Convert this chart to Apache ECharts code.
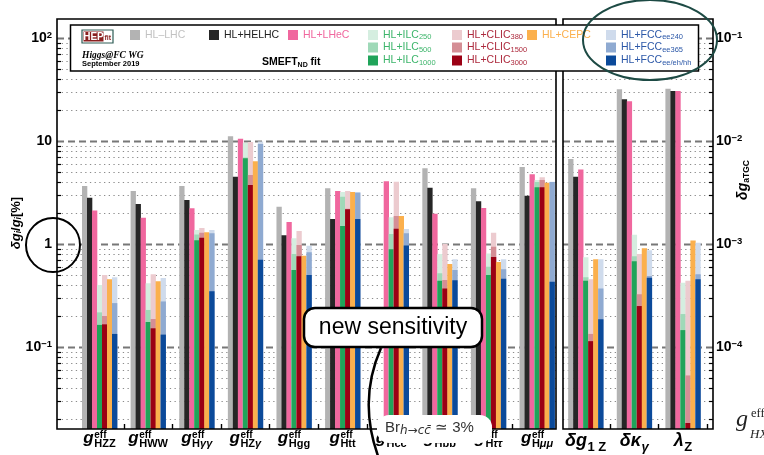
<!DOCTYPE html>
<html><head><meta charset="utf-8">
<script src="https://cdn.jsdelivr.net/npm/echarts@6/dist/echarts.min.js"></script>
<style>html,body{margin:0;padding:0;background:#fff}#c{width:764px;height:455px}</style>
</head><body><div id="c"></div>
<script>
// ---------------- DATA ----------------
const categories = ['gHZZ','gHWW','gHγγ','gHZγ','gHgg','gHtt','gHcc','gHbb','gHττ','gHμμ','δg1Z','δκγ','λZ'];
const labelMain = ['g','g','g','g','g','g','g','g','g','g','δg','δκ','λ'];
const labelSup  = ['eff','eff','eff','eff','eff','eff','eff','eff','eff','eff','','',''];
const labelSub  = ['HZZ','HWW','Hγγ','HZγ','Hgg','Htt','Hcc','Hbb','Hττ','Hμμ','1 Z','γ','Z'];

// Higgs couplings δg/g [%] (first 10 categories)
const hlLhc    = [3.66, 3.27, 3.66, 11.1, 2.30, 3.47, null, 5.43, 3.47, 5.6];
const hlHelhc  = [2.81, 2.44, 2.67, 4.50, 1.22, 1.75, null, 3.52, 2.60, 2.94];
const hlLhec   = [2.12, 1.80, 2.22, 10.5, 1.64, 3.27, 4.06, 1.97, 2.24, 4.75];
const ilc250   = [0.40, 0.415, 1.37, 9.6, 1.14, 3.20, 1.82, 0.80, 0.81, 4.18];
const ilc500   = [0.217, 0.229, 1.24, 6.9, 0.80, 2.88, 1.25, 0.52, 0.60, 4.0];
const ilc1000  = [0.164, 0.175, 1.09, 6.8, 0.56, 1.50, 0.89, 0.44, 0.50, 3.55];
const clic380  = [0.50, 0.508, 1.43, 9.8, 1.34, 3.27, 4.03, 1.0, 1.29, 4.44];
const clic1500 = [0.20, 0.187, 1.29, 4.68, 0.98, 2.2, 1.87, 0.447, 0.94, 4.18];
const clic3000 = [0.166, 0.152, 1.15, 3.74, 0.76, 2.17, 1.41, 0.371, 0.75, 3.55];
const cepc     = [0.454, 0.435, 1.30, 6.35, 0.77, 3.20, 1.87, 0.64, 0.67, 3.94];
const fcc240   = [0.475, 0.468, 1.37, 9.9, 0.96, 3.20, 1.40, 0.71, 0.71, 4.03];
const fcc365   = [0.267, 0.277, 1.27, 9.35, 0.83, 3.15, 1.27, 0.56, 0.57, 4.0];
const fccAll   = [0.134, 0.132, 0.347, 0.705, 0.50, 1.75, 0.97, 0.444, 0.46, 0.43];

// anomalous TGC δg_aTGC (last 3 categories: δg1Z, δκγ, λZ)
const hlLhcTgc    = [6.7e-3, 31.8e-3, 32.2e-3];
const hlHelhcTgc  = [4.5e-3, 25.4e-3, 30.6e-3];
const hlLhecTgc   = [5.3e-3, 24.3e-3, 30.6e-3];
const ilc250Tgc   = [0.743e-3, 1.23e-3, 0.42e-3];
const ilc500Tgc   = [0.475e-3, 0.76e-3, 0.209e-3];
const ilc1000Tgc  = [0.44e-3, 0.68e-3, 0.146e-3];
const clic380Tgc  = [0.454e-3, 0.80e-3, 0.44e-3];
const clic1500Tgc = [0.134e-3, 0.325e-3, 0.053e-3];
const clic3000Tgc = [0.114e-3, 0.25e-3, 0.0183e-3];
const cepcTgc     = [0.71e-3, 0.91e-3, 1.08e-3];
const fcc240Tgc   = [0.71e-3, 0.87e-3, 1.03e-3];
const fcc365Tgc   = [0.371e-3, 0.49e-3, 0.51e-3];
const fccAllTgc   = [0.186e-3, 0.47e-3, 0.454e-3];

// tick labels
const leftTickValues  = [0.1, 1, 10, 100];
const leftTickLabels  = [['10','−1'], ['1',''], ['10',''], ['10','2']];
const rightTickValues = [1e-4, 1e-3, 1e-2, 1e-1];
const rightTickLabels = [['10','−4'], ['10','−3'], ['10','−2'], ['10','−1']];

// ---------------- CONFIG ----------------
const F = '"Liberation Sans", Arial, sans-serif';
const L_MIN = 0.016, L_MAX = 153, R_MIN = 1.6e-5, R_MAX = 0.153;
const TOP = 19, H = 410;

const defs = [
  {name:'HL–LHC', slot:0, color:'#b3b3b3', text:'#c2c2c2', main:hlLhc, tgc:hlLhcTgc, lx:130, ly:30},
  {name:'HL+HELHC', slot:1, color:'#262626', text:'#222222', main:hlHelhc, tgc:hlHelhcTgc, lx:209, ly:30},
  {name:'HL+LHeC', slot:2, color:'#f0679e', text:'#f0679e', main:hlLhec, tgc:hlLhecTgc, lx:288, ly:30},
  {name:'HL+ILC250', slot:3, color:'#d5eee0', text:'#3db56b', main:ilc250, tgc:ilc250Tgc, lx:368, ly:30},
  {name:'HL+ILC500', slot:3, color:'#9fd9b8', text:'#3db56b', main:ilc500, tgc:ilc500Tgc, lx:368, ly:42.5},
  {name:'HL+ILC1000', slot:3, color:'#20a45a', text:'#3db56b', main:ilc1000, tgc:ilc1000Tgc, lx:368, ly:55.5},
  {name:'HL+CLIC380', slot:4, color:'#eccbcf', text:'#ad2a3d', main:clic380, tgc:clic380Tgc, lx:452, ly:30},
  {name:'HL+CLIC1500', slot:4, color:'#d48e95', text:'#ad2a3d', main:clic1500, tgc:clic1500Tgc, lx:452, ly:42.5},
  {name:'HL+CLIC3000', slot:4, color:'#9b0014', text:'#ad2a3d', main:clic3000, tgc:clic3000Tgc, lx:452, ly:55.5},
  {name:'HL+CEPC', slot:5, color:'#fbb04d', text:'#fbb04d', main:cepc, tgc:cepcTgc, lx:527, ly:30},
  {name:'HL+FCCee240', slot:6, color:'#cfdbec', text:'#2c58a8', main:fcc240, tgc:fcc240Tgc, lx:606, ly:30},
  {name:'HL+FCCee365', slot:6, color:'#8faad1', text:'#2c58a8', main:fcc365, tgc:fcc365Tgc, lx:606, ly:42.5},
  {name:'HL+FCCee/eh/hh', slot:6, color:'#0b4a9a', text:'#2c58a8', main:fccAll, tgc:fccAllTgc, lx:606, ly:55.5}
];

function barRenderer(slot){
  return function(params, api){
    const c = api.value(0), v = api.value(1);
    if (!(v > 0)) return null;
    const cs = params.coordSys;
    const band = cs.width / categories.length;
    const bw = band * 0.72 / 7;
    const p = api.coord([c, v]);
    const bottom = cs.y + cs.height;
    return {type:'rect', shape:{x: p[0] - 3.5*bw + slot*bw, y: p[1], width: bw + 0.3, height: bottom - p[1]},
      style:{fill: api.visual('color')}};
  };
}

const mctx = document.createElement('canvas').getContext('2d');
function tw(t, style, weight, size){ mctx.font = style + ' ' + weight + ' ' + size + 'px ' + F; return mctx.measureText(t).width; }

function labelRenderer(params, api){
  const i = api.value(0);
  const cx = api.coord([i, 1])[0];
  const tgc = i >= 10;
  const main = labelMain[i], sup = labelSup[i], sub = labelSub[i];
  const mS = tgc ? 18 : 17, sS = tgc ? 13 : 11, pS = 10;
  const mainY = tgc ? 441.5 : 438.6, subY = tgc ? 447 : 443.7, supY = 435.6;
  const mw = tw(main, 'italic', 'bold', mS);
  // split sub into runs: greek italic, others upright
  const runs = [];
  for (const ch of sub) {
    const g = /[\u0370-\u03ff]/.test(ch);
    if (runs.length && runs[runs.length-1].g === g) runs[runs.length-1].t += ch; else runs.push({t: ch, g});
  }
  let sw = 0; runs.forEach(r => { r.w = tw(r.t, r.g ? 'italic' : 'normal', 'bold', sS); sw += r.w; });
  const pw = sup ? tw(sup, 'normal', 'bold', pS) : 0;
  const total = mw + 0.5 + Math.max(sw, pw);
  const x0 = cx - total / 2;
  const ch = [{type:'text', x: x0, y: mainY, style:{text: main, fontSize: mS, fontWeight:'bold', fontStyle:'italic', fontFamily: F, fill:'#000', align:'left', verticalAlign:'middle'}}];
  if (sup) ch.push({type:'text', x: x0 + mw + 0.5, y: supY, style:{text: sup, fontSize: pS, fontWeight:'bold', fontFamily: F, fill:'#000', align:'left', verticalAlign:'middle'}});
  let xx = x0 + mw + 0.5;
  runs.forEach(r => { ch.push({type:'text', x: xx, y: subY, style:{text: r.t, fontSize: sS, fontWeight:'bold', fontStyle: r.g ? 'italic' : 'normal', fontFamily: F, fill:'#000', align:'left', verticalAlign:'middle'}}); xx += r.w; });
  return {type:'group', children: ch};
}

function gridValues(lo, hi, eLo, eHi){
  const out = [];
  for (let e = eLo; e <= eHi; e++) for (let m = 1; m <= 9; m++) {
    const v = m * Math.pow(10, e);
    if (v >= lo && v <= hi) out.push([0.5, v, m === 1 ? 1 : 0]);
  }
  return out;
}
function gridRenderer(side){
  return function(params, api){
    const cs = params.coordSys;
    const y = Math.round(api.coord([0.5, api.value(1)])[1]) + 0.5;
    const major = api.value(2) === 1;
    const x1 = cs.x, x2 = cs.x + cs.width;
    if (major) {
      return {type:'line', shape:{x1, y1:y, x2, y2:y}, style:{stroke:'#777', lineWidth:2, lineDash:[7,4]}};
    }
    const tx = side === 'left' ? [x1, x1 + 4] : [x2 - 4, x2];
    return {type:'group', children:[
      {type:'line', shape:{x1: x1, y1:y, x2: x2, y2:y}, style:{stroke:'#8c8c8c', lineWidth:1.1, lineDash:[1.3,3.4]}},
      {type:'line', shape:{x1: tx[0], y1:y, x2: tx[1], y2:y}, style:{stroke:'#000', lineWidth:1.2}}
    ]};
  };
}

function tickFormatter(vals, labs){
  return function(v){
    const k = vals.findIndex(t => Math.abs(Math.log10(v / t)) < 1e-6);
    if (k < 0) return '';
    return '{b|' + labs[k][0] + '}' + (labs[k][1] ? '{p|' + labs[k][1] + '}' : '');
  };
}
const tickRich = {b:{fontSize:14, fontWeight:'bold', fontFamily:F, color:'#000', lineHeight:16},
                  p:{fontSize:9.5, fontWeight:'bold', fontFamily:F, color:'#000', lineHeight:8, verticalAlign:'top'}};

const series = [];
defs.forEach(d => {
  series.push({type:'custom', name:d.name, xAxisIndex:0, yAxisIndex:2, itemStyle:{color:d.color}, z:2, silent:true,
    renderItem: barRenderer(d.slot),
    data: d.main.map((v, i) => v == null ? null : [i, v]).filter(Boolean)});
  series.push({type:'custom', name:d.name, xAxisIndex:0, yAxisIndex:3, itemStyle:{color:d.color}, z:2, silent:true,
    renderItem: barRenderer(d.slot),
    data: d.tgc.map((v, i) => [10 + i, v])});
});
series.push({type:'custom', name:'labels', xAxisIndex:0, yAxisIndex:2, z:5, silent:true, renderItem: labelRenderer,
  data: categories.map((c, i) => [i, 1])});
series.push({type:'custom', name:'gridL', xAxisIndex:1, yAxisIndex:0, z:1, silent:true, renderItem: gridRenderer('left'),
  data: gridValues(L_MIN, L_MAX, -2, 2)});
series.push({type:'custom', name:'gridR', xAxisIndex:2, yAxisIndex:1, z:1, silent:true, renderItem: gridRenderer('right'),
  data: gridValues(R_MIN, R_MAX, -5, -1)});

const legends = defs.map(d => ({
  data:[d.name], left:d.lx, top:d.ly - 1, icon:'rect', itemWidth:10, itemHeight:10, padding:0, selectedMode:false, z:50,
  textStyle:{color:d.text, fontSize:10.5, fontFamily:F, lineHeight:12,
    rich:{m:{color:d.text, fontSize:10.5, fontFamily:F, lineHeight:12},
          s:{color:d.text, fontSize:7.5, fontFamily:F, lineHeight:4, verticalAlign:'bottom'}}},
  formatter: function(n){ const m = n.match(/^(HL\+(?:ILC|CLIC|FCC))(.+)$/); return m ? '{m|' + m[1] + '}{s|' + m[2] + '}' : '{m|' + n + '}'; }
}));

const graphics = [
  {type:'rect', shape:{x:57, y:TOP, width:499, height:H}, style:{fill:'none', stroke:'#000', lineWidth:1.6}, z:30, silent:true},
  {type:'rect', shape:{x:563, y:TOP, width:150, height:H}, style:{fill:'none', stroke:'#000', lineWidth:1.6}, z:30, silent:true},
  // legend box
  {type:'rect', shape:{x:70.5, y:25, width:628, height:46}, style:{fill:'#fff', stroke:'#000', lineWidth:1.5}, z:40, silent:true},
  {type:'rect', shape:{x:82, y:30, width:31, height:13}, style:{fill:'#fff', stroke:'#2e5c55', lineWidth:1.2}, z:41},
  {type:'rect', shape:{x:83.5, y:31.5, width:20, height:10}, style:{fill:'#8a1f1f'}, z:42},
  {type:'text', x:93.5, y:36.8, style:{text:'HEP', fill:'#fff', fontSize:10, fontWeight:'bold', fontFamily:F, align:'center', verticalAlign:'middle'}, z:43},
  {type:'text', x:104.5, y:38.5, style:{text:'fit', fill:'#8a1f1f', fontSize:7, fontWeight:'bold', fontFamily:F, align:'left', verticalAlign:'middle'}, z:43},
  {type:'text', x:82, y:55.5, style:{text:'Higgs@FC WG', fill:'#000', fontSize:9.5, fontWeight:'bold', fontStyle:'italic', fontFamily:'"Liberation Serif", serif', align:'left', verticalAlign:'middle'}, z:43},
  {type:'text', x:82, y:63.8, style:{text:'September 2019', fill:'#000', fontSize:7.5, fontWeight:'bold', fontFamily:F, align:'left', verticalAlign:'middle'}, z:43},
  {type:'text', x:262, y:62.5, style:{text:'{m|SMEFT}{s|ND}{m| fit}', align:'left', verticalAlign:'middle',
    rich:{m:{fontSize:10.5, fontWeight:'bold', fontFamily:F, fill:'#000', lineHeight:12}, s:{fontSize:7, fontWeight:'bold', fontFamily:F, fill:'#000', lineHeight:4, verticalAlign:'bottom'}}}, z:43},
  // axis titles
  {type:'text', x:16, y:223, rotation:Math.PI/2, style:{text:'{m|δg}{s|i}{n|/}{m|g}{s|i}{n|[%]}', align:'center', verticalAlign:'middle',
    rich:{m:{fontSize:13, fontWeight:'bold', fontStyle:'italic', fontFamily:F, fill:'#000', lineHeight:15},
          n:{fontSize:13, fontWeight:'bold', fontFamily:F, fill:'#000', lineHeight:15},
          s:{fontSize:8.5, fontWeight:'bold', fontStyle:'italic', fontFamily:F, fill:'#000', lineHeight:5, verticalAlign:'bottom'}}}, z:43},
  {type:'text', x:743, y:180, rotation:Math.PI/2, style:{text:'{m|δg}{s|aTGC}', align:'center', verticalAlign:'middle',
    rich:{m:{fontSize:14, fontWeight:'bold', fontStyle:'italic', fontFamily:F, fill:'#000', lineHeight:16},
          s:{fontSize:8.5, fontWeight:'bold', fontFamily:F, fill:'#000', lineHeight:5, verticalAlign:'bottom'}}}, z:43},
  // annotations
  {type:'circle', shape:{cx:53, cy:245, r:27}, style:{fill:'none', stroke:'#000', lineWidth:2}, z:60},
  {type:'ellipse', shape:{cx:650, cy:40, rx:67, ry:40}, style:{fill:'none', stroke:'#1d4a44', lineWidth:2}, z:60},
  {type:'rect', shape:{x:377, y:415, width:115, height:28, r:12}, style:{fill:'#fff'}, z:60},
  {type:'text', x:385, y:428, style:{text:'{a|Br}{b|h→cc̄}{a| ≃ 3%}', align:'left', verticalAlign:'middle',
    rich:{a:{fontSize:15, fontFamily:F, fill:'#333', lineHeight:17},
          b:{fontSize:12, fontStyle:'italic', fontFamily:'"DejaVu Sans", sans-serif', fill:'#333', lineHeight:6, verticalAlign:'bottom'}}}, z:61},
  {type:'rect', shape:{x:304, y:308, width:178, height:39, r:11}, style:{fill:'#fff', stroke:'#000', lineWidth:2.5}, z:60},
  {type:'text', x:393, y:327.5, style:{text:'new sensitivity', fontSize:23, fontFamily:F, fill:'#000', align:'center', verticalAlign:'middle'}, z:61},
  {type:'bezierCurve', shape:{x1:381, y1:348, cpx1:358, cpy1:400, x2:378, y2:456}, style:{stroke:'#000', lineWidth:2.5, fill:'none'}, z:62},
  {type:'text', x:736, y:420, style:{text:'g', fontSize:24, fontStyle:'italic', fontFamily:'"Liberation Serif", serif', fill:'#222', align:'left', verticalAlign:'middle'}, z:43},
  {type:'text', x:751, y:414, style:{text:'eff', fontSize:12.5, fontFamily:'"Liberation Serif", serif', fill:'#222', align:'left', verticalAlign:'middle'}, z:43},
  {type:'text', x:750, y:434.5, style:{text:'HX', fontSize:13, fontStyle:'italic', fontFamily:'"Liberation Serif", serif', fill:'#222', align:'left', verticalAlign:'middle'}, z:43}
];

const option = {
  animation:false,
  backgroundColor:'#fff',
  grid:[
    {left:75.2, width:632, top:TOP, height:H},
    {left:57, width:499, top:TOP, height:H},
    {left:563, width:150, top:TOP, height:H}
  ],
  xAxis:[
    {type:'category', gridIndex:0, data:categories, boundaryGap:true,
      axisLine:{show:false}, axisLabel:{show:false}, splitLine:{show:false},
      axisTick:{show:true, inside:true, length:5, lineStyle:{color:'#000', width:1.4},
        interval:function(idx){ return idx !== 0 && idx !== 10; }}},
    {type:'value', gridIndex:1, min:0, max:1, show:false},
    {type:'value', gridIndex:2, min:0, max:1, show:false}
  ],
  yAxis:[
    {type:'log', gridIndex:1, min:L_MIN, max:L_MAX, logBase:10, position:'left',
      axisLine:{show:false}, axisTick:{show:false}, splitLine:{show:false}, minorTick:{show:false},
      axisLabel:{margin:5, formatter:tickFormatter(leftTickValues, leftTickLabels), rich:tickRich, showMinLabel:false, showMaxLabel:false}},
    {type:'log', gridIndex:2, min:R_MIN, max:R_MAX, logBase:10, position:'right',
      axisLine:{show:false}, axisTick:{show:false}, splitLine:{show:false},
      axisLabel:{margin:3, formatter:tickFormatter(rightTickValues, rightTickLabels), rich:tickRich, showMinLabel:false, showMaxLabel:false}},
    {type:'log', gridIndex:0, min:L_MIN, max:L_MAX, logBase:10, show:false},
    {type:'log', gridIndex:0, min:R_MIN, max:R_MAX, logBase:10, show:false, position:'right'}
  ],
  legend: legends,
  graphic: graphics,
  series: series
};
const chart = echarts.init(document.getElementById('c'));
chart.setOption(option);
</script></body></html>
